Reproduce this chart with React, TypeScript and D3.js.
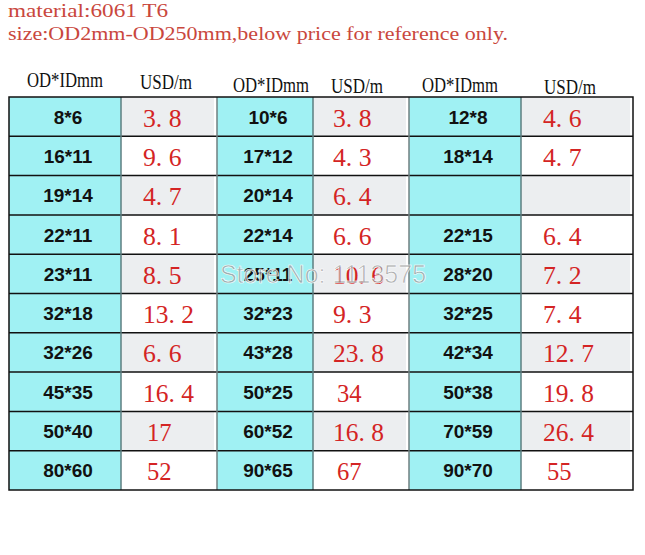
import React from 'react';
import * as d3 from 'd3';

// table contents, three column groups
const headers = ['OD*IDmm', 'USD/m', 'OD*IDmm', 'USD/m', 'OD*IDmm', 'USD/m'];
const sizesA = ['8*6', '16*11', '19*14', '22*11', '23*11', '32*18', '32*26', '45*35', '50*40', '80*60'];
const pricesA = ['3.8', '9.6', '4.7', '8.1', '8.5', '13.2', '6.6', '16.4', '17', '52'];
const sizesB = ['10*6', '17*12', '20*14', '22*14', '25*11', '32*23', '43*28', '50*25', '60*52', '90*65'];
const pricesB = ['3.8', '4.3', '6.4', '6.6', '10.6', '9.3', '23.8', '34', '16.8', '67'];
const sizesC = ['12*8', '18*14', '', '22*15', '28*20', '32*25', '42*34', '50*38', '70*59', '90*70'];
const pricesC = ['4.6', '4.7', '', '6.4', '7.2', '7.4', '12.7', '19.8', '26.4', '55'];

const titleLines = ['material:6061 T6', 'size:OD2mm-OD250mm,below price for reference only.'];

const W = 645;
const H = 555;
const colEdges = [9, 121, 217, 313, 409, 521, 633];
const headerX = [65, 166, 271, 357, 460, 570];
const headerY = [87, 89, 92, 93, 92, 94];
const top = 97;
const bottom = 490;

const CYAN = '#a0f1f3';
const GRAY = '#eceef0';
const RED = '#d42424';

// SimSun-like price: wide gap after the decimal point
const fmtPrice = (p: string) => p.replace('.', '. ');
const priceWidth = (p: string) => {
  if (!p) return undefined;
  const digits = p.replace('.', '').length;
  return digits * 12.3 + (p.includes('.') ? 14 : 0);
};

const App = () => {
  const rows = d3.range(sizesA.length);
  const y = d3.scaleBand<number>().domain(rows).range([top, bottom]);
  const groups = [
    { sizes: sizesA, prices: pricesA },
    { sizes: sizesB, prices: pricesB },
    { sizes: sizesC, prices: pricesC },
  ];

  return (
    <svg
      width={W}
      height={H}
      style={{ position: 'absolute', left: 0, top: 0, display: 'block', background: '#fff' }}
    >
      {/* title */}
      {titleLines.map((t, i) => (
        <text
          key={t}
          x={8}
          y={17 + i * 23}
          fontFamily="'Liberation Serif', serif"
          fontSize={18}
          textLength={t.length * 10}
          lengthAdjust="spacingAndGlyphs"
          fill="#c9473d"
        >
          {t}
        </text>
      ))}

      {/* headers */}
      {headers.map((h, i) => (
        <text
          key={i}
          x={headerX[i]}
          y={headerY[i]}
          textAnchor="middle"
          fontFamily="'Liberation Serif', serif"
          fontSize={20}
          textLength={h.length > 5 ? 76 : 52}
          lengthAdjust="spacingAndGlyphs"
          fill="#111"
        >
          {h}
        </text>
      ))}

      {/* cells */}
      {groups.map((g, gi) => {
        const x0 = colEdges[gi * 2];
        const x1 = colEdges[gi * 2 + 1];
        const x2 = colEdges[gi * 2 + 2];
        return (
          <g key={gi}>
            {rows.map((r) => (
              <g key={r}>
                <rect x={x0} y={y(r)} width={x1 - x0} height={y.bandwidth()} fill={CYAN} />
                <rect
                  x={x1}
                  y={y(r)}
                  width={x2 - x1 - 3}
                  height={y.bandwidth()}
                  fill={r % 2 === 0 ? GRAY : '#fff'}
                />
                <text
                  x={(x0 + x1) / 2 + 3}
                  y={y(r)! + y.bandwidth() / 2 + 7}
                  textAnchor="middle"
                  fontFamily="'Liberation Sans', Arial, sans-serif"
                  fontWeight="bold"
                  fontSize={19}
                  fill="#111"
                >
                  {g.sizes[r]}
                </text>
                <text
                  x={x1 + (gi === 0 ? 22 : gi === 1 ? 20 : 22) + (g.prices[r].includes('.') ? 0 : 4)}
                  y={y(r)! + y.bandwidth() / 2 + 10}
                  fontFamily="'Liberation Serif', serif"
                  fontSize={26}
                  textLength={priceWidth(g.prices[r])}
                  lengthAdjust="spacingAndGlyphs"
                  fill={RED}
                >
                  {fmtPrice(g.prices[r])}
                </text>
              </g>
            ))}
          </g>
        );
      })}

      {/* grid lines */}
      {rows.slice(1).map((r) => (
        <line key={r} x1={colEdges[0]} x2={colEdges[6]} y1={y(r)} y2={y(r)} stroke="#111" strokeWidth={1.5} />
      ))}
      {colEdges.slice(1, 6).map((cx, i) => (
        <line key={i} x1={cx} x2={cx} y1={top} y2={bottom} stroke={i % 2 === 0 ? '#5c7e80' : '#6f7f80'} strokeWidth={1.5} />
      ))}
      <rect
        x={colEdges[0]}
        y={top}
        width={colEdges[6] - colEdges[0]}
        height={bottom - top}
        fill="none"
        stroke="#111"
        strokeWidth={1.5}
      />

      {/* watermark */}
      <text
        x={323}
        y={283}
        textAnchor="middle"
        fontFamily="'Liberation Sans', Arial, sans-serif"
        fontSize={25}
        fill="#9a9a9a"
        fillOpacity={0.75}
        stroke="#fff"
        strokeWidth={0.6}
      >
        Store No: 1113575
      </text>
    </svg>
  );
};

export default App;
